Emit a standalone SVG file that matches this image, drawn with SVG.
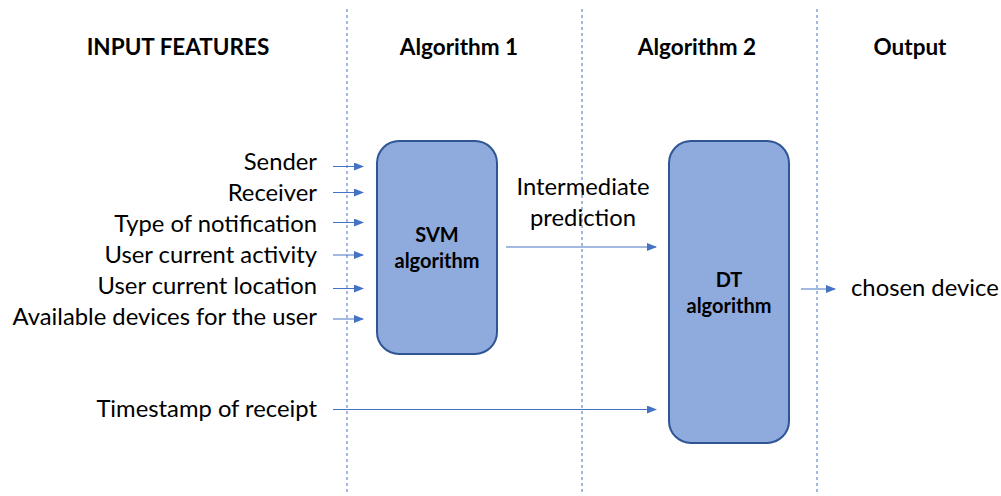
<svg xmlns="http://www.w3.org/2000/svg" width="1001" height="496" viewBox="0 0 1001 496">
<defs>
<marker id="ah" markerWidth="10" markerHeight="8" refX="9" refY="4" orient="auto" markerUnits="userSpaceOnUse">
<path d="M0,0 L10,4 L0,8 Z" fill="#4472c4"/>
</marker>
<style>
.div{stroke:#4472c4;stroke-width:1;stroke-dasharray:3,3;fill:none}
.hdr{font-family:Lato,"Liberation Sans",sans-serif;font-weight:bold;font-size:22.5px;fill:#000;text-anchor:middle}
.lbl{font-family:Lato,"Liberation Sans",sans-serif;font-size:23.8px;fill:#000}
.box{fill:#8faadc;stroke:#2f5597;stroke-width:2}
.btxt{font-family:Lato,"Liberation Sans",sans-serif;font-weight:bold;font-size:20px;fill:#000;text-anchor:middle}
.arr{stroke:#4472c4;stroke-width:1;fill:none;marker-end:url(#ah)}
</style>
</defs>
<rect width="1001" height="496" fill="#fff"/>
<g id="dividers">
<line class="div" x1="347" y1="9" x2="347" y2="492"/>
<line class="div" x1="582" y1="9" x2="582" y2="492"/>
<line class="div" x1="817" y1="9" x2="817" y2="492"/>
</g>
<g id="headers">
<text class="hdr" x="178" y="55">INPUT FEATURES</text>
<text class="hdr" x="459" y="55">Algorithm 1</text>
<text class="hdr" x="697" y="55">Algorithm 2</text>
<text class="hdr" x="910" y="55">Output</text>
</g>
<g id="inputs" class="lbl" text-anchor="end">
<text x="317" y="170">Sender</text>
<text x="317" y="201">Receiver</text>
<text x="317" y="232">Type of notification</text>
<text x="317" y="263">User current activity</text>
<text x="317" y="294">User current location</text>
<text x="317" y="325">Available devices for the user</text>
<text x="317" y="417">Timestamp of receipt</text>
</g>
<g id="svm">
<rect class="box" x="377" y="141" width="120" height="213" rx="22"/>
<text class="btxt" x="437" y="242">SVM</text>
<text class="btxt" x="437" y="268">algorithm</text>
</g>
<g id="dt">
<rect class="box" x="669" y="141" width="120" height="302" rx="22"/>
<text class="btxt" x="729" y="287">DT</text>
<text class="btxt" x="729" y="313">algorithm</text>
</g>
<g id="output">
<text class="lbl" x="851" y="296">chosen device</text>
</g>
<g id="connectors">
<line class="arr" x1="333" y1="166.5" x2="363" y2="166.5"/>
<line class="arr" x1="333" y1="192.5" x2="363" y2="192.5"/>
<line class="arr" x1="333" y1="222.5" x2="363" y2="222.5"/>
<line class="arr" x1="333" y1="255" x2="363" y2="255"/>
<line class="arr" x1="333" y1="288.5" x2="363" y2="288.5"/>
<line class="arr" x1="333" y1="319" x2="363" y2="319"/>
<line class="arr" x1="506" y1="247" x2="656" y2="247"/>
<line class="arr" x1="333" y1="409.5" x2="656" y2="409.5"/>
<line class="arr" x1="801" y1="289" x2="835" y2="289"/>
<text class="lbl" x="583" y="195" text-anchor="middle">Intermediate</text>
<text class="lbl" x="583" y="226" text-anchor="middle">prediction</text>
</g>
</svg>
